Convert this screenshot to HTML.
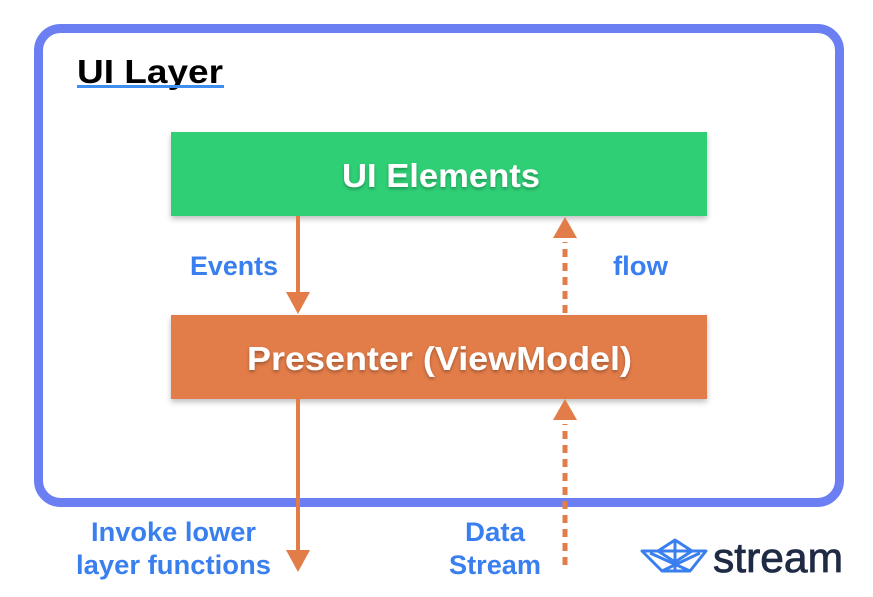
<!DOCTYPE html>
<html><head><meta charset="utf-8"><style>
html,body{margin:0;padding:0;background:#fff;}
svg{display:block;}
text{font-family:"Liberation Sans",sans-serif;font-weight:bold;}
</style></head><body>
<svg width="873" height="597" viewBox="0 0 873 597" xmlns="http://www.w3.org/2000/svg">
<defs>
<filter id="sh" x="-5%" y="-10%" width="110%" height="130%"><feDropShadow dx="0" dy="3" stdDeviation="3" flood-color="#000" flood-opacity="0.25"/></filter>
<filter id="ts"><feDropShadow dx="0" dy="2" stdDeviation="1.5" flood-color="#000" flood-opacity="0.3"/></filter>
</defs>
<rect x="38.5" y="28.5" width="801" height="474" rx="22" fill="none" stroke="#6b7ff2" stroke-width="9"/>
<text x="77" y="83" font-size="33" fill="#000" textLength="146" lengthAdjust="spacingAndGlyphs">UI Layer</text>
<rect x="77" y="85" width="147" height="3" fill="#3c8ef0"/>

<rect x="171" y="132" width="536" height="84" fill="#2ecf75" filter="url(#sh)"/>
<text x="342" y="187" font-size="33" fill="#fff" textLength="198" lengthAdjust="spacingAndGlyphs" filter="url(#ts)">UI Elements</text>
<rect x="171" y="315" width="536" height="84" fill="#e27c48" filter="url(#sh)"/>
<text x="247" y="370" font-size="33" fill="#fff" textLength="385" lengthAdjust="spacingAndGlyphs" filter="url(#ts)">Presenter (ViewModel)</text>

<g stroke="#e27c48" stroke-width="4" fill="none">
<line x1="298" y1="216" x2="298" y2="294"/>
<line x1="298" y1="399" x2="298" y2="552"/>
<line x1="565" y1="313" x2="565" y2="242" stroke-width="5" stroke-dasharray="8,6"/>
<line x1="565" y1="565" x2="565" y2="424" stroke-width="5" stroke-dasharray="8,6"/>
</g>
<g fill="#e27c48">
<polygon points="286,292 310,292 298,314"/>
<polygon points="286,550 310,550 298,572"/>
<polygon points="553,238 577,238 565,217"/>
<polygon points="553,420 577,420 565,399"/>
</g>

<g fill="#3a7ff0" font-size="27">
<text x="190" y="275" textLength="88" lengthAdjust="spacingAndGlyphs">Events</text>
<text x="613" y="275" textLength="55" lengthAdjust="spacingAndGlyphs">flow</text>
<text x="91" y="541" textLength="165" lengthAdjust="spacingAndGlyphs">Invoke lower</text>
<text x="76" y="574" textLength="195" lengthAdjust="spacingAndGlyphs">layer functions</text>
<text x="465" y="541" textLength="60" lengthAdjust="spacingAndGlyphs">Data</text>
<text x="449" y="574" textLength="92" lengthAdjust="spacingAndGlyphs">Stream</text>
</g>

<g stroke="#3a7ff0" stroke-width="3" fill="none" stroke-linejoin="round">
<polygon points="642,551 662,571 690,571 706,551 692,551 675,540 658,551"/>
<line x1="642" y1="551" x2="706" y2="551"/>
<line x1="675" y1="540" x2="675" y2="571"/>
<line x1="650" y1="553" x2="690" y2="571"/>
<line x1="700" y1="553" x2="662" y2="571"/>
<line x1="658" y1="551" x2="675" y2="562"/>
<line x1="692" y1="551" x2="675" y2="562"/>
</g>
<text x="713" y="572" font-size="42" fill="#1f2a44" style="font-weight:normal" stroke="#1f2a44" stroke-width="0.8" textLength="130" lengthAdjust="spacingAndGlyphs">stream</text>
</svg>
</body></html>
